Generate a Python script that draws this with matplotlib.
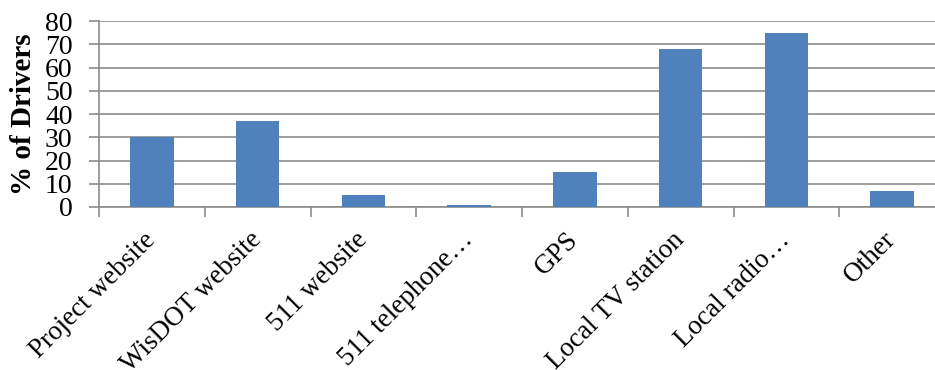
import numpy as np
import matplotlib.pyplot as plt

categories = ['Project website', 'WisDOT website', '511 website', '511 telephone…',
              'GPS', 'Local TV station', 'Local radio…', 'Other']
values = [30, 37, 5, 1, 15, 68, 75, 7]

plt.rcParams['font.family'] = ['Liberation Serif', 'DejaVu Serif']

fig = plt.figure(figsize=(9.35, 3.7), dpi=100)
ax = fig.add_axes([99/935, 163/370, 846/935, 186/370])

x = np.arange(len(categories))
ax.bar(x, values, width=0.41, color='#4F81BD', zorder=3)

grey = '#8c8c8c'
ax.set_ylim(0, 80)
ax.set_yticks(range(0, 81, 10))
ax.set_xlim(-0.5, len(categories) - 0.5)
ax.grid(axis='y', color=grey, linewidth=1.2, zorder=0)

# ticks at category boundaries, labels at centres
ax.set_xticks(np.arange(-0.5, len(categories), 1.0))
ax.set_xticklabels([])
ax.set_xticks(x, minor=True)
ax.set_xticklabels(categories, minor=True, rotation=45, ha='right',
                   va='center', rotation_mode='anchor', fontsize=19.5)
ax.tick_params(axis='x', which='major', length=7, width=1.2, color=grey)
ax.tick_params(axis='x', which='minor', length=0, pad=21)
ax.tick_params(axis='y', length=7, width=1.2, color=grey, labelsize=20, pad=12)

for s in ['top', 'right']:
    ax.spines[s].set_visible(False)
for s in ['left', 'bottom']:
    ax.spines[s].set_color(grey)
    ax.spines[s].set_linewidth(1.2)

ax.set_ylabel('% of Drivers', fontsize=21, fontweight='bold', labelpad=6)

fig.savefig('out.png', dpi=100)
